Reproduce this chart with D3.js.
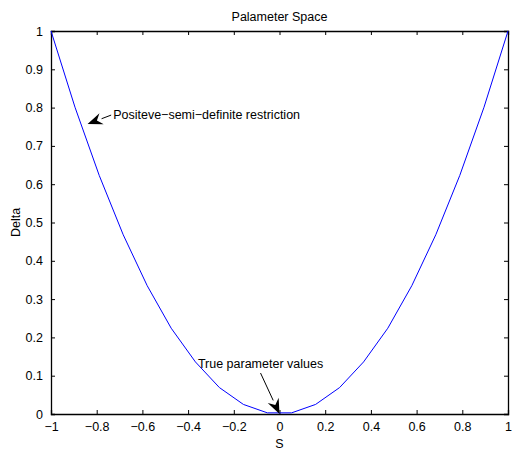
<!DOCTYPE html>
<html>
<head>
<meta charset="utf-8">
<script src="https://cdn.jsdelivr.net/npm/d3@7"></script>
<style>
  body { margin: 0; background: #fff; }
  text { font-family: "Liberation Sans", Arial, sans-serif; font-size: 12.5px; fill: #000; }
</style>
</head>
<body>
<script>
// values
var sValues = [-1, -0.895, -0.789, -0.684, -0.579, -0.474, -0.368, -0.263, -0.158, -0.053,
               0.053, 0.158, 0.263, 0.368, 0.474, 0.579, 0.684, 0.789, 0.895, 1];
var deltaValues = [1, 0.801, 0.623, 0.468, 0.335, 0.224, 0.136, 0.069, 0.025, 0.003,
                   0.003, 0.025, 0.069, 0.136, 0.224, 0.335, 0.468, 0.623, 0.801, 1];
var xTicks = [-1, -0.8, -0.6, -0.4, -0.2, 0, 0.2, 0.4, 0.6, 0.8, 1];
var yTicks = [0, 0.1, 0.2, 0.3, 0.4, 0.5, 0.6, 0.7, 0.8, 0.9, 1];
var notes = [
  {label: "Positeve\u2212semi\u2212definite restriction", tx: -0.728, ty: 0.77, px: -0.84, py: 0.757, anchor: "start"},
  {label: "True parameter values", tx: -0.083, ty: 0.12, px: 0, py: 0, anchor: "middle"}
];

var margin = {top: 31, right: 4, bottom: 36, left: 51},
    width = 512 - margin.left - margin.right,
    height = 450 - margin.top - margin.bottom;

var fmt = function(d) { return String(d).replace("-", "\u2212"); };

const svg = d3.select("body").append("svg")
    .attr("width", 512)
    .attr("height", 450);

const g = svg.append("g").attr("transform", `translate(${margin.left}, ${margin.top})`);

var x = d3.scaleLinear().domain([-1, 1]).range([0, width]);
var y = d3.scaleLinear().domain([0, 1]).range([height, 0]);

// axes, ticks pointing inward, mirrored on top/right
g.append("g").attr("transform", `translate(0, ${height})`)
    .call(d3.axisBottom(x).tickValues(xTicks).tickSize(-4).tickPadding(8).tickFormat(fmt));
g.append("g")
    .call(d3.axisTop(x).tickValues(xTicks).tickSize(-4).tickFormat(""));
g.append("g")
    .call(d3.axisLeft(y).tickValues(yTicks).tickSize(-4).tickPadding(8).tickFormat(fmt));
g.append("g").attr("transform", `translate(${width}, 0)`)
    .call(d3.axisRight(y).tickValues(yTicks).tickSize(-4).tickFormat(""));

g.selectAll(".domain").attr("stroke", "#000").attr("stroke-width", 1.3);
g.selectAll(".tick line").attr("stroke", "#000");
g.selectAll(".tick text").style("font-family", "'Liberation Sans', Arial, sans-serif").style("font-size", "12.5px");

// curve
var pts = sValues.map(function(s, i) { return [s, deltaValues[i]]; });
g.append("path")
    .datum(pts)
    .attr("fill", "none")
    .attr("stroke", "#0000ff")
    .attr("stroke-width", 1)
    .attr("d", d3.line().x(function(d) { return x(d[0]); }).y(function(d) { return y(d[1]); }));

// annotations with arrows
notes.forEach(function(n) {
  var tx = x(n.tx), ty = y(n.ty), px = x(n.px), py = y(n.py);
  var sx = n.anchor === "start" ? tx - 2 : tx;
  var sy = n.anchor === "start" ? ty - 4 : ty + 5;
  var ang = Math.atan2(py - sy, px - sx);
  var L = 15, W = 6;
  var bx = px - L * Math.cos(ang), by = py - L * Math.sin(ang);
  g.append("line")
      .attr("x1", sx).attr("y1", sy).attr("x2", bx).attr("y2", by)
      .attr("stroke", "#000").attr("stroke-width", 1);
  g.append("path")
      .attr("d", d3.line()([
        [px, py],
        [bx + W * Math.sin(ang), by - W * Math.cos(ang)],
        [px - (L - 5) * Math.cos(ang), py - (L - 5) * Math.sin(ang)],
        [bx - W * Math.sin(ang), by + W * Math.cos(ang)]
      ]) + "Z")
      .attr("fill", "#000");
  g.append("text")
      .attr("x", tx).attr("y", ty)
      .attr("text-anchor", n.anchor)
      .text(n.label);
});

// title and labels
svg.append("text")
    .attr("x", margin.left + width / 2).attr("y", 21)
    .attr("text-anchor", "middle")
    .text("Palameter Space");
svg.append("text")
    .attr("x", margin.left + width / 2).attr("y", 448)
    .attr("text-anchor", "middle")
    .text("S");
svg.append("text")
    .attr("transform", `translate(20, ${margin.top + height / 2}) rotate(-90)`)
    .attr("text-anchor", "middle")
    .text("Delta");
</script>
</body>
</html>
